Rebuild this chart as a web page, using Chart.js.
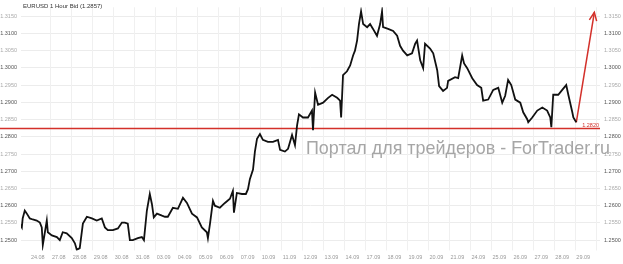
<!DOCTYPE html>
<html>
<head>
<meta charset="utf-8">
<script src="https://cdn.jsdelivr.net/npm/chart.js@4/dist/chart.umd.min.js"></script>
<style>
html,body{margin:0;padding:0;background:#fff;}
#wrap{width:623px;height:264px;position:relative;}
</style>
</head>
<body>
<div id="wrap"><canvas id="c" width="623" height="264"></canvas></div>
<script>
// ---- data ----
const chartTitle = "EURUSD 1 Hour Bid (1.2857)";
const dateLabels = ["24.08","27.08","28.08","29.08","30.08","31.08","03.09","04.09","05.09","06.09","07.09","10.09","11.09","12.09","13.09","14.09","17.09","18.09","19.09","20.09","21.09","24.09","25.09","26.09","27.09","28.09","29.09"];
const yTickValues = [1.2500,1.2550,1.2600,1.2650,1.2700,1.2750,1.2800,1.2850,1.2900,1.2950,1.3000,1.3050,1.3100,1.3150];
// time in trading days (0 = 24.08 label), price (bid)
const times = [-0.86,-0.76,-0.72,-0.62,-0.52,-0.38,-0.24,-0.05,0.10,0.19,0.24,0.43,0.48,0.67,0.91,1.05,1.19,1.38,1.62,1.77,1.86,2.00,2.15,2.34,2.58,2.81,3.05,3.20,3.34,3.58,3.82,4.01,4.15,4.29,4.39,4.53,4.77,4.96,5.06,5.20,5.34,5.44,5.53,5.68,5.92,6.06,6.20,6.44,6.68,6.92,7.11,7.35,7.59,7.82,8.06,8.11,8.21,8.35,8.44,8.68,8.92,9.16,9.30,9.35,9.49,9.73,9.92,10.02,10.11,10.26,10.35,10.45,10.59,10.73,10.97,11.21,11.45,11.55,11.78,11.93,12.12,12.26,12.36,12.45,12.64,12.88,13.07,13.12,13.22,13.36,13.60,13.84,14.03,14.27,14.41,14.46,14.55,14.74,14.89,15.03,15.12,15.22,15.31,15.41,15.51,15.70,15.84,15.98,16.17,16.32,16.41,16.46,16.70,16.94,17.13,17.27,17.41,17.61,17.84,17.99,18.08,18.23,18.37,18.46,18.70,18.85,19.04,19.13,19.32,19.51,19.56,19.89,20.04,20.23,20.32,20.47,20.71,20.94,21.14,21.23,21.47,21.71,21.95,22.14,22.28,22.42,22.57,22.76,23.00,23.14,23.33,23.38,23.57,23.81,24.05,24.28,24.43,24.48,24.57,24.81,25.00,25.19,25.29,25.48,25.53,25.67];
const prices = [1.2548,1.2537,1.2563,1.2586,1.2577,1.2563,1.2560,1.2557,1.2551,1.2537,1.2486,1.2557,1.2523,1.2514,1.2509,1.2500,1.2523,1.2520,1.2506,1.2491,1.2472,1.2477,1.2548,1.2568,1.2563,1.2557,1.2563,1.2537,1.2529,1.2529,1.2534,1.2551,1.2551,1.2548,1.2500,1.2500,1.2506,1.2509,1.2500,1.2586,1.2634,1.2605,1.2566,1.2577,1.2571,1.2568,1.2568,1.2594,1.2591,1.2623,1.2608,1.2577,1.2566,1.2537,1.2523,1.2506,1.2548,1.2614,1.2600,1.2594,1.2608,1.2620,1.2643,1.2580,1.2637,1.2634,1.2634,1.2648,1.2677,1.2705,1.2757,1.2794,1.2808,1.2791,1.2785,1.2785,1.2791,1.2762,1.2757,1.2765,1.2805,1.2776,1.2833,1.2865,1.2856,1.2856,1.2876,1.2819,1.2928,1.2893,1.2899,1.2913,1.2922,1.2913,1.2905,1.2856,1.2979,1.2990,1.3007,1.3036,1.3050,1.3079,1.3127,1.3164,1.3127,1.3118,1.3127,1.3113,1.3093,1.3127,1.3164,1.3118,1.3113,1.3107,1.3093,1.3064,1.3050,1.3036,1.3042,1.3070,1.3079,1.3022,1.2999,1.3070,1.3056,1.3042,1.2993,1.2947,1.2933,1.2942,1.2962,1.2973,1.2970,1.3036,1.3013,1.2999,1.2970,1.2950,1.2942,1.2905,1.2908,1.2936,1.2942,1.2899,1.2919,1.2965,1.2950,1.2908,1.2899,1.2871,1.2851,1.2842,1.2856,1.2876,1.2885,1.2876,1.2856,1.2828,1.2922,1.2922,1.2936,1.2950,1.2922,1.2871,1.2856,1.2842];
const arrowTimes = [25.67, 26.53];
const arrowPrices = [1.2842, 1.3161];
const supportLevel = 1.2825;
const supportLabel = "1.2820";
const watermark = "Портал для трейдеров - ForTrader.ru";

// ---- build ----
const priceData = times.map((t,i)=>({x:t,y:prices[i]}));
const arrowData = arrowTimes.map((t,i)=>({x:t,y:arrowPrices[i]}));
const RED = '#d3302a';
const FONT = '"Liberation Sans", Arial, sans-serif';

function yTickColor(v){ return Math.abs(Math.round(v*100) - v*100) < 1e-6 ? '#555' : '#aaa'; }

const decor = {
  id:'decor',
  beforeDatasetsDraw(chart){
    const {ctx, chartArea:a, scales} = chart;
    const x = scales.x;
    ctx.save();
    ctx.strokeStyle = '#f0f0f0';
    ctx.lineWidth = 1;
    for (let i=0;i<dateLabels.length;i++){
      const px = Math.round(x.getPixelForValue(i+0.6))+0.5;
      if (px < a.left || px > a.right) continue;
      ctx.beginPath(); ctx.moveTo(px,a.top); ctx.lineTo(px,a.bottom); ctx.stroke();
    }
    // watermark
    ctx.fillStyle = '#a6a6a6';
    ctx.font = '19px ' + FONT;
    ctx.textBaseline = 'alphabetic';
    ctx.textAlign = 'left';
    ctx.fillText(watermark, 306, 154, 304);
    // support line
    const y = Math.round(scales.y.getPixelForValue(supportLevel))+0.5;
    ctx.strokeStyle = RED; ctx.lineWidth = 1.5;
    ctx.beginPath(); ctx.moveTo(0,y); ctx.lineTo(a.right,y); ctx.stroke();
    ctx.fillStyle = RED;
    ctx.font = '5.5px ' + FONT;
    ctx.textAlign = 'right';
    ctx.fillText(supportLabel, a.right-1, y-1.5);
    // title
    ctx.fillStyle = '#333';
    ctx.font = '6px ' + FONT;
    ctx.textAlign = 'left';
    ctx.fillText(chartTitle, 23, 8);
    ctx.restore();
  },
  afterDatasetsDraw(chart){
    const meta = chart.getDatasetMeta(1);
    const p1 = meta.data[0], p2 = meta.data[1];
    const ctx = chart.ctx;
    const ang = Math.atan2(p2.y-p1.y, p2.x-p1.x);
    const L = 9, w = 0.42;
    ctx.save();
    ctx.strokeStyle = RED; ctx.lineWidth = 1.5;
    ctx.beginPath();
    ctx.moveTo(p2.x - L*Math.cos(ang-w), p2.y - L*Math.sin(ang-w));
    ctx.lineTo(p2.x, p2.y);
    ctx.lineTo(p2.x - L*Math.cos(ang+w), p2.y - L*Math.sin(ang+w));
    ctx.stroke();
    ctx.restore();
  }
};

function setYTicks(s){ s.ticks = yTickValues.map(v=>({value:v})); }

new Chart(document.getElementById('c'), {
  type:'line',
  data:{ datasets:[
    {data:priceData, borderColor:'#111', borderWidth:1.8, pointRadius:0, tension:0, yAxisID:'y'},
    {data:arrowData, borderColor:RED, borderWidth:1.5, pointRadius:0, tension:0, yAxisID:'y'}
  ]},
  options:{
    responsive:false, animation:false, events:[],
    layout:{padding:{top:3,left:0,right:0,bottom:0}},
    plugins:{legend:{display:false}, tooltip:{enabled:false}},
    scales:{
      x:{type:'linear', min:-0.8, max:26.8,
        afterBuildTicks(s){ s.ticks = dateLabels.map((_,i)=>({value:i})); },
        afterFit(s){ s.height = 13.5; },
        ticks:{callback:(v)=>dateLabels[v], color:'#999', font:{size:5.5, family:FONT}, padding:4, maxRotation:0, autoSkip:false},
        grid:{display:false, drawTicks:false}, border:{display:false}},
      y:{type:'linear', position:'left', min:1.2470, max:1.31757,
        afterBuildTicks:setYTicks,
        afterFit(s){ s.width = 21; },
        ticks:{callback:(v)=>v.toFixed(4), color:(c)=>yTickColor(c.tick.value), font:{size:5.5, family:FONT}, padding:4},
        grid:{color:'#ececec', drawTicks:false}, border:{display:false}},
      yR:{type:'linear', position:'right', min:1.2470, max:1.31757,
        afterBuildTicks:setYTicks,
        afterFit(s){ s.width = 23; },
        ticks:{callback:(v)=>v.toFixed(4), color:(c)=>yTickColor(c.tick.value), font:{size:5.5, family:FONT}, padding:4},
        grid:{display:false, drawTicks:false}, border:{display:false}}
    }
  },
  plugins:[decor]
});
</script>
</body>
</html>
